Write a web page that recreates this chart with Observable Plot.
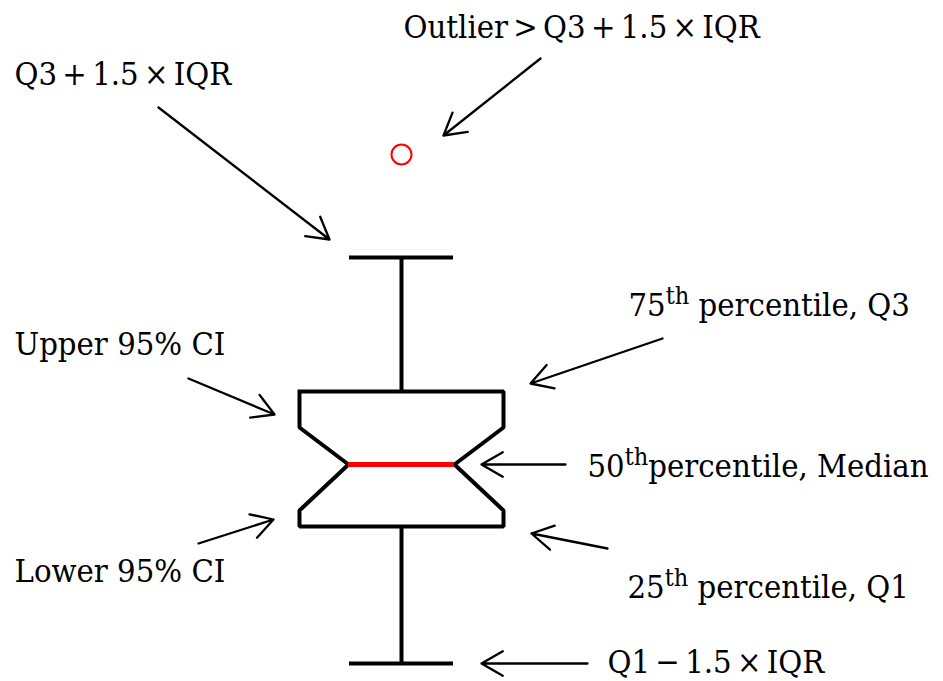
<!DOCTYPE html>
<html><head><meta charset="utf-8">
<script src="https://cdn.jsdelivr.net/npm/d3@7"></script>
<script src="https://cdn.jsdelivr.net/npm/@observablehq/plot@0.6"></script>
<style>body{margin:0;background:#fff}#chart svg{display:block}</style>
</head><body><div id="chart"></div>
<script>
// ---- data (y units = summary statistic values) ----
const statNames  = ["lowerWhisker","q1","lowerCI","median","upperCI","q3","upperWhisker","outlier"];
const statValues = [18, 155, 171, 217, 254, 290, 424, 527];
const labelTexts = [
  "Outlier > Q3 + 1.5 × IQR",
  "Q3 + 1.5 × IQR",
  "75th percentile, Q3",
  "Upper 95% CI",
  "50thpercentile, Median",
  "Lower 95% CI",
  "25th percentile, Q1",
  "Q1 − 1.5 × IQR"
];
const labelStats = ["outlier","upperWhisker","q3","upperCI","median","lowerCI","q1","lowerWhisker"];

// ---- layout (offsets relative to the box centre / statistic) ----
const X = 401;               // box centre on x scale
const boxHalf = 102, notchHalf = 53, capHalf = 52;
const layout = {
  outlier:      {tx:   2, ty: 127, ax1: 139, ay1:  96, ax2:  42, ay2: 19},
  upperWhisker: {tx:-387, ty: 183, ax1:-243, ay1: 150, ax2: -72, ay2: 18},
  q3:           {tx: 227, ty:  86, ax1: 261, ay1:  53, ax2: 129, ay2:  8},
  upperCI:      {tx:-387, ty:  83, ax1:-213, ay1:  49, ax2:-127, ay2: 13},
  median:       {tx: 186, ty:  -2, ax1: 164, ay1:   0, ax2:  80, ay2:  0},
  lowerCI:      {tx:-387, ty: -61, ax1:-203, ay1: -33, ax2:-128, ay2: -9},
  q1:           {tx: 226, ty: -61, ax1: 206, ay1: -22, ax2: 130, ay2: -7},
  lowerWhisker: {tx: 206, ty:   1, ax1: 186, ay1:   0, ax2:  80, ay2:  0}
};

const S = Object.fromEntries(statNames.map((n, i) => [n, statValues[i]]));

// notched box outline
const box = [
  [X - boxHalf, S.q3], [X + boxHalf, S.q3], [X + boxHalf, S.upperCI],
  [X + notchHalf, S.median], [X + boxHalf, S.lowerCI], [X + boxHalf, S.q1],
  [X - boxHalf, S.q1], [X - boxHalf, S.lowerCI], [X - notchHalf, S.median],
  [X - boxHalf, S.upperCI], [X - boxHalf, S.q3]
].map(([x, y]) => ({x, y}));

const ann = labelTexts.map((t, i) => {
  const s = labelStats[i], v = S[s], L = layout[s];
  return {text: t, tx: X + L.tx, ty: v + L.ty,
          x1: X + L.ax1, y1: v + L.ay1, x2: X + L.ax2, y2: v + L.ay2};
});

const chart = Plot.plot({
  width: 943, height: 681, margin: 0,
  x: {domain: [0, 943], axis: null},
  y: {domain: [0, 681], axis: null},
  style: {fontFamily: "'DejaVu Serif Condensed', 'DejaVu Serif', serif", background: "#fff"},
  marks: [
    Plot.ruleX([0], {x: X, y1: S.q3, y2: S.upperWhisker, stroke: "black", strokeWidth: 4}),
    Plot.ruleX([0], {x: X, y1: S.lowerWhisker, y2: S.q1, stroke: "black", strokeWidth: 4}),
    Plot.ruleY([S.upperWhisker, S.lowerWhisker], {y: d => d, x1: X - capHalf, x2: X + capHalf, stroke: "black", strokeWidth: 4}),
    Plot.line(box, {x: "x", y: "y", stroke: "black", strokeWidth: 4, strokeLinejoin: "miter", strokeLinecap: "square"}),
    Plot.ruleY([S.median], {y: d => d, x1: X - notchHalf, x2: X + notchHalf, stroke: "red", strokeWidth: 5}),
    Plot.dot([S.outlier], {x: X, y: d => d, r: 10, stroke: "red", strokeWidth: 2, fill: "none"}),
    Plot.arrow(ann, {x1: "x1", y1: "y1", x2: "x2", y2: "y2", stroke: "black", strokeWidth: 2.3, headLength: 16, headAngle: 60}),
    Plot.text(ann, {x: "tx", y: "ty", text: "text", textAnchor: "start", lineAnchor: "middle", fontSize: 32.5, fill: "black"})
  ]
});

// math-style tight spacing for the IQR formulas, superscript "th"
d3.select(chart).selectAll("text").each(function() {
  const t = this.textContent;
  if (/IQR/.test(t)) this.setAttribute("word-spacing", "-4");
  const m = t.match(/^(\d+)th(.*)$/);
  if (!m) return;
  const sel = d3.select(this);
  sel.text(null);
  sel.append("tspan").text(m[1]);
  sel.append("tspan").attr("font-size", 25).attr("dy", -12).text("th");
  sel.append("tspan").attr("dy", 12).text(m[2]);
});

document.getElementById("chart").appendChild(chart);
</script>
</body></html>
